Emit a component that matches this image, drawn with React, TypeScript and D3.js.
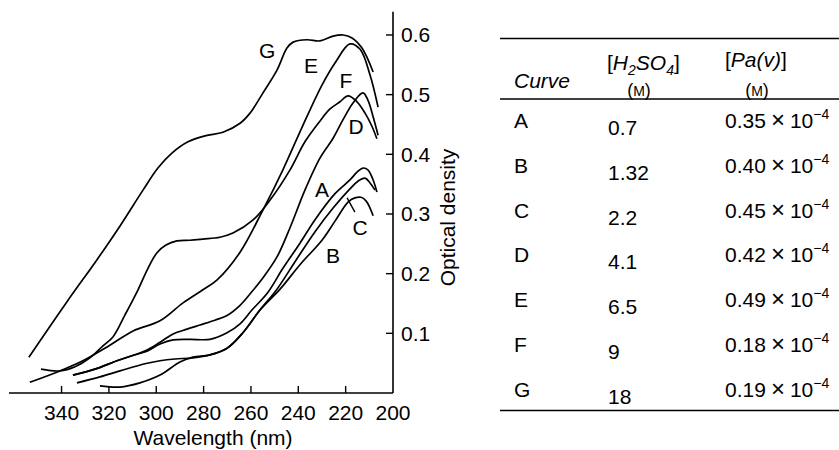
import React from 'react';
import * as d3 from 'd3';

const W = 839;
const H = 450;

const xTicks = [340, 320, 300, 280, 260, 240, 220, 200];
const yTicks = [0.1, 0.2, 0.3, 0.4, 0.5, 0.6];

// Curve A (0.7 M H2SO4)
const wlA = [335.2, 325.9, 316.6, 309.0, 303.9, 298.4, 292.9, 285.8, 277.3, 270.1, 264.6, 259.6, 252.8, 246.5, 239.3, 233.0, 224.5, 218.2, 215.2, 212.7, 210.6, 208.4, 206.8];
const odA = [0.030, 0.040, 0.054, 0.064, 0.070, 0.082, 0.089, 0.090, 0.090, 0.101, 0.116, 0.139, 0.169, 0.209, 0.251, 0.290, 0.334, 0.357, 0.370, 0.377, 0.374, 0.357, 0.337];
// Curve B (1.32 M)
const wlB = [323.8, 315.3, 306.9, 298.4, 290.0, 284.5, 277.3, 270.1, 263.4, 256.2, 249.0, 241.4, 233.0, 225.3, 218.2, 214.8, 211.8, 209.7, 207.6];
const odB = [0.012, 0.010, 0.017, 0.030, 0.052, 0.060, 0.064, 0.075, 0.101, 0.139, 0.174, 0.220, 0.270, 0.310, 0.342, 0.355, 0.360, 0.352, 0.340];
// Curve C (2.2 M)
const wlC = [333.5, 323.8, 315.3, 304.8, 298.4, 292.1, 284.5, 277.3, 270.1, 263.4, 256.2, 247.7, 239.3, 230.0, 224.5, 219.0, 216.1, 213.5, 211.4, 209.7, 208.4];
const odC = [0.017, 0.027, 0.037, 0.049, 0.054, 0.057, 0.059, 0.064, 0.075, 0.101, 0.139, 0.174, 0.215, 0.256, 0.288, 0.320, 0.327, 0.328, 0.322, 0.310, 0.297];
// Curve D (4.1 M)
const wlD = [335.2, 325.9, 316.6, 309.0, 303.9, 298.4, 292.9, 287.0, 281.5, 275.2, 270.1, 264.6, 260.4, 255.3, 249.0, 243.5, 237.2, 230.8, 225.3, 221.1, 216.9, 212.7, 210.6, 208.4, 206.3];
const odD = [0.030, 0.040, 0.054, 0.064, 0.072, 0.085, 0.099, 0.107, 0.114, 0.122, 0.130, 0.147, 0.166, 0.191, 0.228, 0.277, 0.340, 0.394, 0.427, 0.458, 0.486, 0.503, 0.491, 0.463, 0.432];
// Curve E (6.5 M)
const wlE = [353.4, 340.7, 331.0, 319.6, 309.8, 298.4, 288.7, 280.3, 274.4, 264.6, 254.9, 246.5, 238.0, 230.0, 224.5, 218.2, 213.9, 209.7, 206.3];
const odE = [0.018, 0.037, 0.054, 0.080, 0.104, 0.121, 0.151, 0.173, 0.189, 0.236, 0.307, 0.374, 0.449, 0.516, 0.553, 0.585, 0.576, 0.533, 0.479];
// Curve F (9 M)
const wlF = [348.7, 340.7, 334.3, 328.0, 322.5, 318.3, 313.2, 307.7, 303.5, 299.7, 295.9, 291.3, 285.8, 280.3, 273.1, 267.6, 259.1, 252.0, 243.5, 237.2, 230.8, 226.6, 222.4, 219.0, 215.2, 211.8, 208.9, 206.8];
const odF = [0.040, 0.037, 0.044, 0.059, 0.079, 0.094, 0.131, 0.173, 0.209, 0.235, 0.248, 0.255, 0.256, 0.258, 0.261, 0.268, 0.290, 0.323, 0.374, 0.421, 0.456, 0.476, 0.488, 0.498, 0.488, 0.469, 0.447, 0.426];
// Curve G (18 M)
const wlG = [353.8, 337.7, 325.1, 315.3, 305.6, 299.3, 293.4, 286.6, 279.4, 271.8, 264.6, 260.4, 254.9, 249.0, 244.8, 242.2, 236.3, 230.8, 225.3, 221.1, 217.3, 213.1, 208.4];
const odG = [0.060, 0.153, 0.223, 0.280, 0.340, 0.377, 0.402, 0.421, 0.431, 0.437, 0.452, 0.469, 0.503, 0.541, 0.578, 0.588, 0.592, 0.590, 0.598, 0.600, 0.595, 0.578, 0.538];

const curveNames = ['A', 'B', 'C', 'D', 'E', 'F', 'G'];
const curveWl = [wlA, wlB, wlC, wlD, wlE, wlF, wlG];
const curveOd = [odA, odB, odC, odD, odE, odF, odG];

// label anchors (data units)
const labelWl = [230.0, 225.3, 213.9, 215.6, 234.6, 219.9, 253.2];
const labelOd = [0.340, 0.231, 0.277, 0.446, 0.548, 0.523, 0.573];
// leader line for C
const leaderWl = [219.4, 216.1];
const leaderOd = [0.327, 0.303];

// table
const h2so4 = ['0.7', '1.32', '2.2', '4.1', '6.5', '9', '18'];
const paV = ['0.35', '0.40', '0.45', '0.42', '0.49', '0.18', '0.19'];

const FONT = "'Liberation Sans', Arial, Helvetica, sans-serif";

export default function App() {
  const x = d3.scaleLinear().domain([362.2, 200]).range([9, 393]);
  const y = d3.scaleLinear().domain([0, 0.639]).range([393, 11.7]);
  const line = d3
    .line<[number, number]>()
    .x((d) => x(d[0]))
    .y((d) => y(d[1]))
    .curve(d3.curveCatmullRom.alpha(0.5));

  const fs = 21;
  const rowY0 = 128;
  const rowStep = 44.8;

  return (
    <svg
      width={W}
      height={H}
      style={{ position: 'absolute', left: 0, top: 0, background: '#fff' }}
      fontFamily={FONT}
    >
      <rect x={0} y={0} width={W} height={H} fill="#fff" />
      {/* axes */}
      <line x1={x(362.2)} x2={x(200)} y1={y(0)} y2={y(0)} stroke="#000" strokeWidth={1.6} />
      <line x1={x(200)} x2={x(200)} y1={y(0)} y2={y(0.639)} stroke="#000" strokeWidth={1.6} />
      {xTicks.map((t) => (
        <g key={'xt' + t}>
          {t !== 200 && (
            <line x1={x(t)} x2={x(t)} y1={y(0)} y2={y(0) - 7} stroke="#000" strokeWidth={1.4} />
          )}
          <text x={x(t)} y={420} fontSize={fs} textAnchor="middle" fill="#000">
            {t}
          </text>
        </g>
      ))}
      {yTicks.map((t) => (
        <g key={'yt' + t}>
          <line x1={x(200) - 7} x2={x(200)} y1={y(t)} y2={y(t)} stroke="#000" strokeWidth={1.4} />
          <text x={401} y={y(t)} dy="0.35em" fontSize={fs} fill="#000">
            {t.toFixed(1)}
          </text>
        </g>
      ))}
      <text x={213} y={445} fontSize={fs} textAnchor="middle" fill="#000">
        Wavelength (nm)
      </text>
      <text
        transform={`translate(455,217.5) rotate(-90)`}
        fontSize={fs}
        textAnchor="middle"
        fill="#000"
      >
        Optical density
      </text>

      {/* curves */}
      {curveNames.map((n, i) => {
        const pts = curveWl[i].map((w, j) => [w, curveOd[i][j]] as [number, number]);
        return (
          <path key={'c' + n} d={line(pts) || ''} fill="none" stroke="#000" strokeWidth={1.7} strokeLinejoin="round" />
        );
      })}
      <line
        x1={x(leaderWl[0])}
        y1={y(leaderOd[0])}
        x2={x(leaderWl[1])}
        y2={y(leaderOd[1])}
        stroke="#000"
        strokeWidth={1.4}
      />
      {curveNames.map((n, i) => (
        <text
          key={'l' + n}
          x={x(labelWl[i])}
          y={y(labelOd[i])}
          dy="0.35em"
          fontSize={fs}
          textAnchor="middle"
          fill="#000"
        >
          {n}
        </text>
      ))}

      {/* table */}
      <line x1={500} x2={839} y1={38.5} y2={38.5} stroke="#000" strokeWidth={1.6} />
      <line x1={500} x2={839} y1={99} y2={99} stroke="#000" strokeWidth={1.6} />
      <line x1={500} x2={839} y1={410.5} y2={410.5} stroke="#000" strokeWidth={1.6} />
      <text x={514} y={88} fontSize={fs} fontStyle="italic" fill="#000">
        Curve
      </text>
      <text x={607} y={70} fontSize={fs} fill="#000">
        [<tspan fontStyle="italic">H</tspan>
        <tspan fontStyle="italic" fontSize={14} dy={5}>2</tspan>
        <tspan fontStyle="italic" dy={-5}>SO</tspan>
        <tspan fontStyle="italic" fontSize={14} dy={5}>4</tspan>
        <tspan dy={-5}>]</tspan>
      </text>
      <text x={639} y={96} fontSize={18} textAnchor="middle" fill="#000">
        (<tspan fontSize={14}>M</tspan>)
      </text>
      <text x={725} y={67} fontSize={fs} fill="#000">
        [<tspan fontStyle="italic">Pa(v)</tspan>]
      </text>
      <text x={757} y={96} fontSize={18} textAnchor="middle" fill="#000">
        (<tspan fontSize={14}>M</tspan>)
      </text>
      {curveNames.map((n, i) => {
        const yy = rowY0 + i * rowStep;
        return (
          <g key={'row' + n}>
            <text x={514} y={yy} fontSize={fs} fill="#000">
              {n}
            </text>
            <text x={608} y={yy + 7} fontSize={fs} fill="#000">
              {h2so4[i]}
            </text>
            <text x={725} y={yy} fontSize={fs} fill="#000">
              {paV[i]}
              <tspan dx={5} fontSize={24}>×</tspan>
              <tspan dx={5}>10</tspan>
              <tspan fontSize={14} dy={-9}>−4</tspan>
            </text>
          </g>
        );
      })}
    </svg>
  );
}
